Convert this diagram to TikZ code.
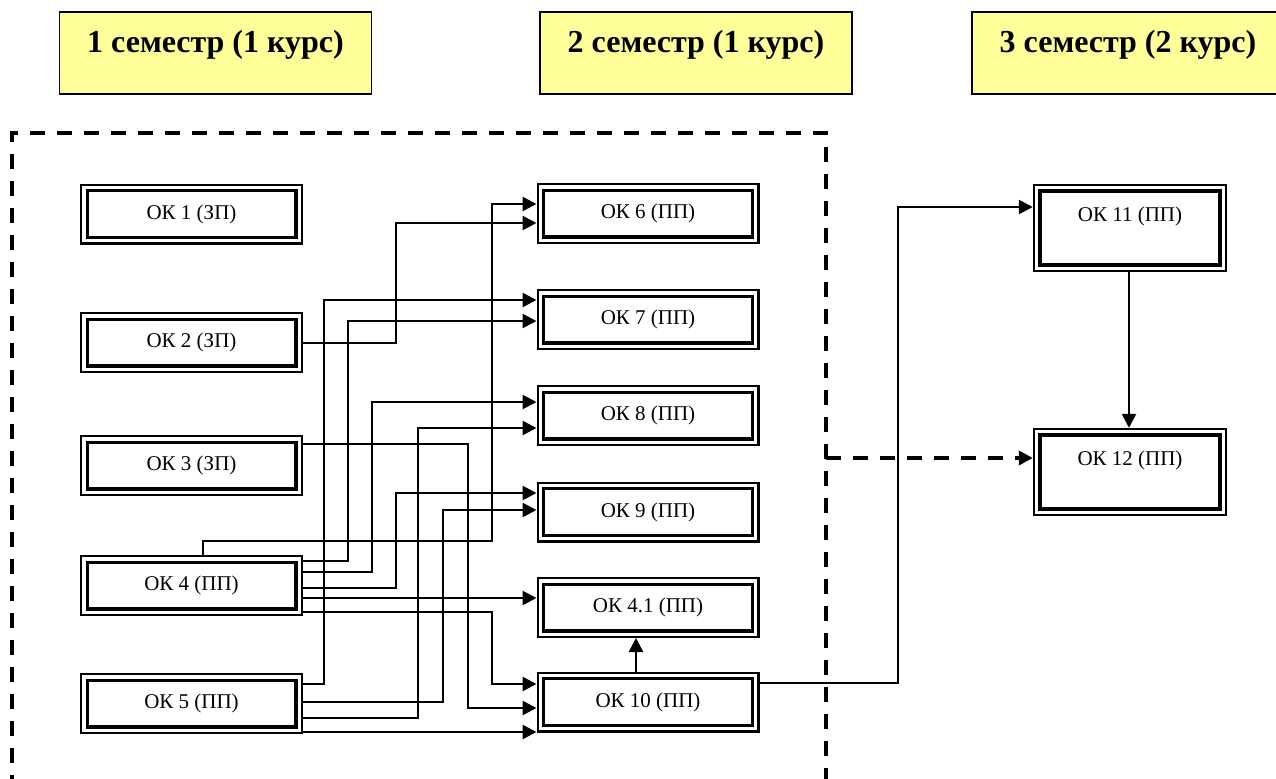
\documentclass[tikz,border=0pt]{standalone}
\usepackage{fontspec}
\setmainfont{Liberation Serif}
\usepackage{xcolor}
\usetikzlibrary{arrows.meta}

\definecolor{semyellow}{HTML}{FFFF99}

\begin{document}
\begin{tikzpicture}[
    x=0.5pt, y=-0.5pt,
    semester/.style={rectangle, draw, line width=0.6pt, fill=semyellow, minimum width=156pt, inner ysep=0pt, text height=20pt, text depth=21pt, font=\bfseries\fontsize{16}{19}\selectfont},
    course/.style={rectangle, draw, line width=1.2pt, minimum width=110.3pt, minimum height=29.3pt, font=\fontsize{10.5}{12}\selectfont,
      path picture={\draw[line width=1.7pt] ([shift={(3pt,-3pt)}]path picture bounding box.north west) rectangle ([shift={(-3pt,3pt)}]path picture bounding box.south east);}},
    tallcourse/.style={course, minimum width=96pt, minimum height=43pt, inner ysep=0pt, text height=18pt, text depth=25pt},
    arrow/.style={-{Triangle[length=7pt,width=7pt]}, line width=1.3pt},
    groupframe/.style={line width=1.9pt, dash pattern=on 7.5pt off 6pt}
]
\useasboundingbox (0,0) rectangle (1276,778);

% semesters
\node[semester] (sem1) at (215.5,53) {1 семестр (1 курс)};
\node[semester] (sem2) at (696,53) {2 семестр (1 курс)};
\node[semester] (sem3) at (1128,53) {3 семестр (2 курс)};

% first year block
\draw[groupframe] (12,790) |- (826,133) -- (826,790);
\coordinate (frameeast) at (826,458);

\node[course] (ok1) at (191.5,214) {ОК 1 (ЗП)};
\node[course] (ok2) at (191.5,342.5) {ОК 2 (ЗП)};
\node[course] (ok3) at (191.5,465.5) {ОК 3 (ЗП)};
\node[course] (ok4) at (191.5,585.5) {ОК 4 (ПП)};
\node[course] (ok5) at (191.5,703.5) {ОК 5 (ПП)};

\node[course] (ok6) at (648,213.5) {ОК 6 (ПП)};
\node[course] (ok7) at (648,319.5) {ОК 7 (ПП)};
\node[course] (ok8) at (648,415.5) {ОК 8 (ПП)};
\node[course] (ok9) at (648,512) {ОК 9 (ПП)};
\node[course] (ok41) at (648,607.5) {ОК 4.1 (ПП)};
\node[course] (ok10) at (648,702) {ОК 10 (ПП)};

\node[tallcourse] (ok11) at (1130,228) {ОК 11 (ПП)};
\node[tallcourse] (ok12) at (1130,472) {ОК 12 (ПП)};

% links into the second semester
\draw[arrow] (ok2.east |- 0,343) -| (396,223) -- (ok6.west |- 0,223);
\draw[arrow] (ok4.north -| 203,0) |- (492,541) |- (ok6.west |- 0,204);
\draw[arrow] (ok5.east |- 0,684) -| (324,300) -- (ok7.west |- 0,300);
\draw[arrow] (ok4.east |- 0,561) -| (348,321) -- (ok7.west |- 0,321);
\draw[arrow] (ok4.east |- 0,572) -| (372,402) -- (ok8.west |- 0,402);
\draw[arrow] (ok5.east |- 0,718) -| (418,428) -- (ok8.west |- 0,428);
\draw[arrow] (ok4.east |- 0,588) -| (396,493) -- (ok9.west |- 0,493);
\draw[arrow] (ok5.east |- 0,702) -| (443,510) -- (ok9.west |- 0,510);
\draw[arrow] (ok4.east |- 0,598) -- (ok41.west |- 0,598);
\draw[arrow] (ok3.east |- 0,444) -| (468,708) -- (ok10.west |- 0,708);
\draw[arrow] (ok4.east |- 0,612) -| (492,684) -- (ok10.west |- 0,684);
\draw[arrow] (ok5.east |- 0,732) -- (ok10.west |- 0,732);
\draw[arrow] (ok10.north -| 636,0) -- (ok41.south -| 636,0);

% third semester
\draw[arrow] (ok10.east |- 0,683) -| (898,207) -- (ok11.west |- 0,207);
\draw[arrow] (ok11.south -| 1129,0) -- (ok12.north -| 1129,0);
\draw[arrow, line width=1.9pt, dash pattern=on 7.5pt off 6pt] (frameeast) -- (ok12.west |- frameeast);

\end{tikzpicture}
\end{document}
